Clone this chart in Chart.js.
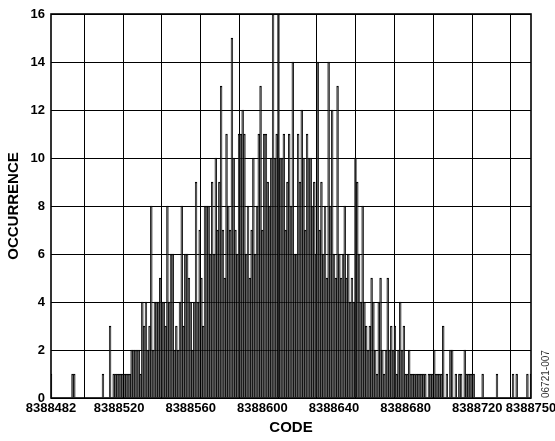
<!DOCTYPE html>
<html>
<head>
<meta charset="utf-8">
<script src="https://cdn.jsdelivr.net/npm/chart.js@4/dist/chart.umd.min.js"></script>
<style>
  html, body { margin: 0; padding: 0; background: #fff; }
  #wrap { width: 555px; height: 441px; position: relative; }
</style>
</head>
<body>
<div id="wrap"><canvas id="myChart" width="555" height="441"></canvas></div>
<script>
// histogram of output codes, one count per code starting at firstCode
const firstCode = 8388482;
const lastCode = 8388750;
const counts = [
  1, 0, 0, 0, 0, 0, 0, 0, 0, 0,
  0, 0, 1, 1, 0, 0, 0, 0, 0, 0,
  0, 0, 0, 0, 0, 0, 0, 0, 0, 1,
  0, 0, 0, 3, 0, 1, 1, 1, 1, 1,
  1, 1, 1, 1, 1, 2, 2, 2, 2, 2,
  1, 4, 3, 4, 2, 3, 8, 2, 4, 4,
  4, 5, 4, 4, 3, 8, 4, 6, 6, 2,
  3, 2, 4, 8, 3, 6, 6, 5, 4, 2,
  4, 9, 4, 7, 5, 3, 8, 8, 8, 6,
  9, 6, 10, 7, 9, 13, 7, 5, 11, 8,
  7, 15, 10, 7, 6, 11, 11, 12, 11, 6,
  8, 5, 7, 10, 6, 8, 11, 13, 7, 11,
  11, 9, 8, 10, 16, 10, 11, 16, 10, 10,
  11, 7, 9, 11, 8, 14, 6, 6, 11, 9,
  12, 10, 7, 11, 10, 10, 8, 9, 6, 14,
  7, 9, 6, 8, 5, 14, 8, 12, 6, 5,
  13, 6, 5, 6, 8, 5, 6, 4, 5, 4,
  10, 9, 6, 4, 8, 4, 3, 2, 3, 5,
  4, 2, 1, 4, 5, 2, 1, 2, 5, 2,
  3, 2, 3, 1, 2, 4, 2, 3, 1, 1,
  2, 1, 1, 1, 1, 1, 1, 1, 1, 1,
  0, 1, 1, 1, 2, 1, 1, 1, 1, 3,
  0, 1, 0, 2, 2, 0, 1, 0, 1, 1,
  0, 2, 1, 1, 1, 1, 1, 0, 0, 0,
  0, 1, 0, 0, 0, 0, 0, 0, 0, 1,
  0, 0, 0, 0, 0, 0, 0, 0, 1, 0,
  1, 0, 0, 0, 0, 0, 1, 0, 1
];
const xTickLabels = [8388482, 8388520, 8388560, 8388600, 8388640, 8388680, 8388720, 8388750];

const points = [];
counts.forEach((c, i) => {
    if (c > 0) points.push({ x: firstCode + i, y: c });
});

// vertical grid lines of the original are not on round codes
const gridCodes = [];
for (let k = 0; k < 12; k++) gridCodes.push(firstCode + 18.6 + k * 21.65);

const tickFont = { family: 'Liberation Sans, Arial, sans-serif', size: 13, weight: 'bold' };
const titleFont = { family: 'Liberation Sans, Arial, sans-serif', size: 15, weight: 'bold' };

const frame = {
    id: 'frame',
    afterDraw(chart) {
        const { ctx, chartArea: a } = chart;
        ctx.save();
        ctx.strokeStyle = '#000';
        ctx.lineWidth = 1.6;
        ctx.strokeRect(a.left, a.top, a.right - a.left, a.bottom - a.top);
        ctx.translate(546, 398);
        ctx.rotate(-Math.PI / 2);
        ctx.font = '10px "Liberation Sans", Arial, sans-serif';
        ctx.fillStyle = '#333';
        ctx.textAlign = 'left';
        ctx.textBaseline = 'middle';
        ctx.fillText('06721-007', 0, 0);
        ctx.restore();
    }
};

new Chart(document.getElementById('myChart'), {
    type: 'bar',
    data: {
        datasets: [{
            data: points,
            xAxisID: 'x',
            backgroundColor: '#3a3a3a',
            borderColor: '#000',
            borderWidth: 1,
            barPercentage: 1,
            categoryPercentage: 1
        }]
    },
    options: {
        responsive: false,
        animation: false,
        devicePixelRatio: 1,
        layout: { padding: { top: 14, right: 24, left: 0, bottom: 0 } },
        plugins: { legend: { display: false }, tooltip: { enabled: false } },
        scales: {
            x: {
                type: 'linear',
                position: 'bottom',
                min: firstCode,
                max: lastCode,
                offset: false,
                grid: { offset: false, color: '#000', lineWidth: 1, drawTicks: false },
                border: { display: false },
                ticks: { display: false },
                afterBuildTicks: s => { s.ticks = gridCodes.map(v => ({ value: v })); },
                afterFit: s => { s.height = 0; s.paddingLeft = 0; s.paddingRight = 0; }
            },
            x2: {
                type: 'linear',
                position: 'bottom',
                min: firstCode,
                max: lastCode,
                offset: false,
                grid: { display: false, offset: false, drawTicks: false },
                border: { display: false },
                ticks: { color: '#000', font: tickFont, padding: 3, autoSkip: false, maxRotation: 0,
                         callback: v => String(v) },
                afterBuildTicks: s => { s.ticks = xTickLabels.map(v => ({ value: v })); },
                title: { display: true, text: 'CODE', color: '#000', font: titleFont, padding: { top: 0, bottom: 4 } },
                afterFit: s => { s.height = 43; s.paddingLeft = 0; s.paddingRight = 0; }
            },
            y: {
                min: 0,
                max: 16,
                ticks: { stepSize: 2, color: '#000', font: tickFont, padding: 6 },
                grid: { color: '#000', lineWidth: 1, drawTicks: false },
                border: { display: false },
                title: { display: true, text: 'OCCURRENCE', color: '#000', font: titleFont, padding: { top: 5, bottom: 0 } },
                afterFit: s => { s.width = 51; s.paddingTop = 0; s.paddingBottom = 0; }
            }
        }
    },
    plugins: [frame]
});
</script>
</body>
</html>
